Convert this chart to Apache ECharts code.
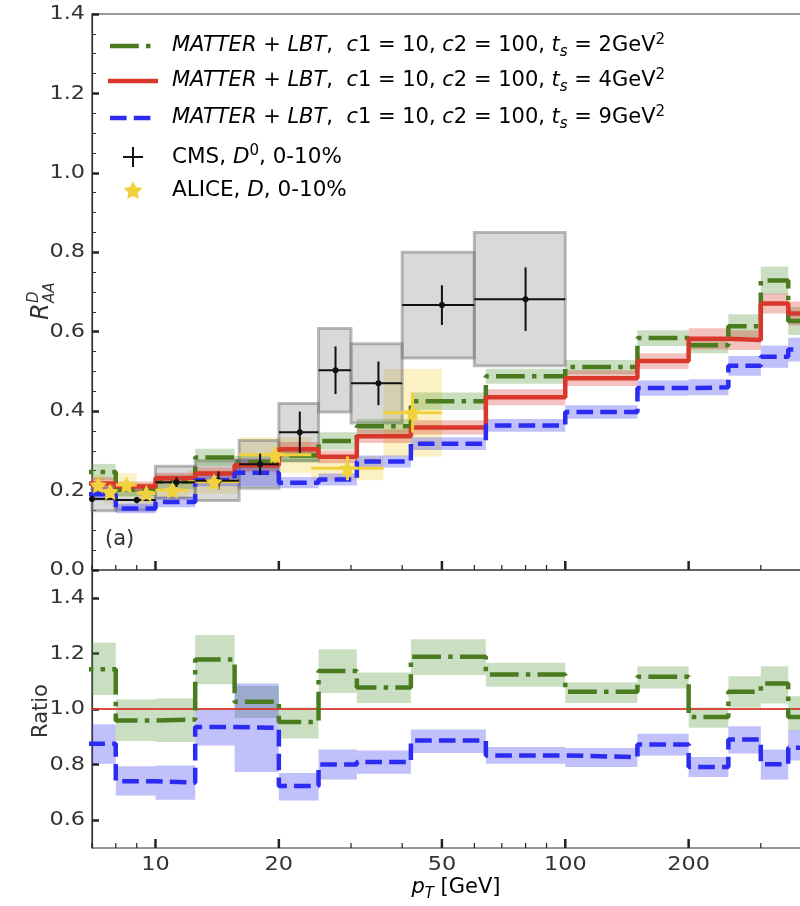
<!DOCTYPE html>
<html>
<head>
<meta charset="utf-8">
<script src="https://cdn.jsdelivr.net/npm/echarts@6/dist/echarts.min.js"></script>
<style>
html,body{margin:0;padding:0;background:#fff;}
#main{width:800px;height:906px;}
</style>
</head>
<body>
<div id="main"></div>
<script>
// histogram bin edges of the model curves (GeV)
var binEdges = [6, 8, 10, 12.5, 15.6, 20, 25, 31, 42, 64, 100, 150, 200, 250, 300, 350, 420];

// R_AA, MATTER+LBT, ts = 2, 4, 9 GeV^2
var greenRaa = [0.247, 0.202, 0.222, 0.283, 0.271, 0.288, 0.325, 0.362, 0.425, 0.488, 0.511, 0.584, 0.566, 0.614, 0.729, 0.627];
var greenErr = [0.020, 0.016, 0.018, 0.022, 0.016, 0.017, 0.022, 0.018, 0.022, 0.019, 0.018, 0.020, 0.020, 0.030, 0.035, 0.035];
var redRaa   = [0.218, 0.210, 0.231, 0.243, 0.264, 0.304, 0.285, 0.337, 0.359, 0.435, 0.483, 0.526, 0.582, 0.579, 0.671, 0.646];
var redErr   = [0.015, 0.013, 0.014, 0.016, 0.016, 0.018, 0.016, 0.017, 0.018, 0.020, 0.020, 0.020, 0.027, 0.025, 0.025, 0.030];
var blueRaa  = [0.191, 0.155, 0.171, 0.226, 0.245, 0.220, 0.228, 0.273, 0.318, 0.364, 0.398, 0.458, 0.460, 0.514, 0.537, 0.555];
var blueErr  = [0.016, 0.012, 0.013, 0.015, 0.035, 0.014, 0.015, 0.015, 0.016, 0.016, 0.017, 0.019, 0.020, 0.025, 0.028, 0.030];

// ratio to ts = 4 GeV^2
var greenRatio   = [1.143, 0.959, 0.962, 1.178, 1.026, 0.953, 1.137, 1.077, 1.188, 1.124, 1.062, 1.116, 0.971, 1.062, 1.092, 0.971];
var greenRatioLo = [1.050, 0.885, 0.881, 1.089, 0.968, 0.894, 1.058, 1.022, 1.122, 1.080, 1.022, 1.074, 0.933, 1.005, 1.020, 0.923];
var greenRatioHi = [1.238, 1.034, 1.038, 1.266, 1.083, 1.005, 1.215, 1.131, 1.251, 1.166, 1.095, 1.154, 1.005, 1.118, 1.154, 1.046];
var blueRatio    = [0.875, 0.740, 0.735, 0.935, 0.932, 0.723, 0.800, 0.809, 0.887, 0.833, 0.827, 0.872, 0.791, 0.890, 0.801, 0.861];
var blueRatioLo  = [0.803, 0.689, 0.674, 0.869, 0.773, 0.671, 0.746, 0.767, 0.842, 0.803, 0.791, 0.833, 0.755, 0.840, 0.746, 0.815];
var blueRatioHi  = [0.945, 0.794, 0.797, 1.001, 1.092, 0.770, 0.854, 0.851, 0.926, 0.863, 0.860, 0.911, 0.827, 0.938, 0.854, 0.924];

// CMS D0 0-10%
var cmsX    = [7, 9, 11.25, 14.25, 18, 22.5, 27.5, 35, 50, 80];
var cmsXlo  = [6, 8, 10, 12.5, 16, 20, 25, 30, 40, 60];
var cmsXhi  = [8, 10, 12.5, 16, 20, 25, 30, 40, 60, 100];
var cmsY    = [0.179, 0.176, 0.221, 0.225, 0.266, 0.347, 0.503, 0.470, 0.667, 0.682];
var cmsStat = [0.008, 0.008, 0.012, 0.023, 0.027, 0.052, 0.060, 0.055, 0.050, 0.080];
var cmsSys  = [0.030, 0.025, 0.040, 0.050, 0.060, 0.072, 0.105, 0.100, 0.133, 0.168];

// ALICE D 0-10%
var aliceX    = [7.25, 7.75, 8.5, 9.5, 11, 13.9, 19.6, 29.4, 42.4];
var aliceXlo  = [7, 7.5, 8, 9, 10, 12, 16, 24, 36];
var aliceXhi  = [7.5, 8, 9, 10, 12, 16, 24, 36, 50];
var aliceY    = [0.214, 0.197, 0.214, 0.193, 0.201, 0.222, 0.290, 0.256, 0.396];
var aliceStat = [0.010, 0.010, 0.010, 0.010, 0.012, 0.015, 0.020, 0.030, 0.050];
var aliceSys  = [0.025, 0.030, 0.030, 0.025, 0.025, 0.030, 0.045, 0.030, 0.110];

// axis ticks
var xMajorTicks = [10, 20, 50, 100, 200];
var xMinorTicks = [7, 8, 9, 30, 40, 60, 70, 80, 90, 300, 400];
var raaTicks    = [0.0, 0.2, 0.4, 0.6, 0.8, 1.0, 1.2, 1.4];
var ratioTicks  = [0.6, 0.8, 1.0, 1.2, 1.4];

var GREEN = '#4a7c1f', RED = '#d8382b', BLUE = '#2b2bf2', GOLD = '#f2d23c';
var FONT = 'DejaVu Sans';
var STAR = 'path://M0,-100 L29.4,-40.5 L95.1,-30.9 L47.6,15.5 L58.8,80.9 L0,50 L-58.8,80.9 L-47.6,15.5 L-95.1,-30.9 L-29.4,-40.5 Z';
var TICK_FONT = '20px "' + FONT + '"';
var TICK_SCALE = 1.12;

function stepData(vals){
    var d = [];
    for (var i = 0; i < vals.length; i++) d.push([binEdges[i], vals[i]]);
    d.push([binEdges[vals.length], vals[vals.length-1]]);
    return d;
}
function bandData(lo, hi){
    var d = [];
    for (var i = 0; i < lo.length; i++) d.push([binEdges[i], binEdges[i+1], lo[i], hi[i]]);
    return d;
}
function errBand(vals, err){
    var lo = [], hi = [];
    for (var i = 0; i < vals.length; i++){ lo.push(vals[i]-err[i]); hi.push(vals[i]+err[i]); }
    return bandData(lo, hi);
}
function boxData(x, xlo, xhi, y, e){
    var d = [];
    for (var i = 0; i < x.length; i++) d.push([xlo[i], xhi[i], y[i]-e[i], y[i]+e[i]]);
    return d;
}
function errData(x, xlo, xhi, y, e){
    var d = [];
    for (var i = 0; i < x.length; i++) d.push([x[i], y[i], xlo[i], xhi[i], e[i]]);
    return d;
}
function pairData(x, y){
    var d = [];
    for (var i = 0; i < x.length; i++) d.push([x[i], y[i]]);
    return d;
}

function rectRenderer(fill, stroke, lw){
    return function(params, api){
        var cs = params.coordSys;
        var p1 = api.coord([api.value(0), api.value(3)]);
        var p2 = api.coord([api.value(1), api.value(2)]);
        var shape = echarts.graphic.clipRectByRect(
            {x: p1[0], y: p1[1], width: p2[0]-p1[0], height: p2[1]-p1[1]},
            {x: cs.x, y: cs.y, width: cs.width, height: cs.height});
        if (!shape) return;
        return {type: 'rect', shape: shape,
            style: {fill: fill, stroke: stroke || null, lineWidth: lw || 0}};
    };
}
function errRenderer(color, lw, dot){
    return function(params, api){
        var cs = params.coordSys;
        var c = api.coord([api.value(0), api.value(1)]);
        var l = api.coord([api.value(2), api.value(1)]);
        var r = api.coord([api.value(3), api.value(1)]);
        var t = api.coord([api.value(0), api.value(1)+api.value(4)]);
        var b = api.coord([api.value(0), api.value(1)-api.value(4)]);
        var x1 = Math.max(l[0], cs.x), x2 = Math.min(r[0], cs.x+cs.width);
        var ch = [
            {type:'line', shape:{x1:x1, y1:c[1], x2:x2, y2:c[1]}, style:{stroke:color, lineWidth:lw}},
            {type:'line', shape:{x1:c[0], y1:t[1], x2:c[0], y2:b[1]}, style:{stroke:color, lineWidth:lw}}
        ];
        if (dot) ch.push({type:'circle', shape:{cx:c[0], cy:c[1], r:dot}, style:{fill:color}});
        return {type:'group', children: ch};
    };
}
// x ticks drawn upward from the bottom edge of a grid, optional labels below
function tickRenderer(len, lw, withLabel){
    return function(params, api){
        var cs = params.coordSys;
        var x = api.coord([api.value(0), api.value(1)])[0];
        var yb = cs.y + cs.height;
        var ch = [{type:'line', shape:{x1:x, y1:yb, x2:x, y2:yb-len}, style:{stroke:'#222', lineWidth:lw}}];
        if (withLabel) ch.push({type:'text', x:x, y:yb+7, scaleX:TICK_SCALE, style:{text:String(api.value(0)),
            font:TICK_FONT, fill:'#333', align:'center', verticalAlign:'top'}});
        return {type:'group', children: ch};
    };
}
// y tick labels left of a grid
function yLabelRenderer(params, api){
    var cs = params.coordSys;
    var y = api.coord([api.value(0), api.value(1)])[1];
    return {type:'text', x:cs.x-7, y:y, scaleX:TICK_SCALE, style:{text:api.value(1).toFixed(1),
        font:TICK_FONT, fill:'#333', align:'right', verticalAlign:'middle'}};
}

function band(name, data, color, xi, yi){
    return {name:name, type:'custom', xAxisIndex:xi, yAxisIndex:yi, silent:true, z:2,
        renderItem: rectRenderer(color), encode:{x:[0,1], y:[2,3]}, data:data};
}
function step(name, data, color, dash, lw, xi, yi){
    return {name:name, type:'line', xAxisIndex:xi, yAxisIndex:yi, step:'end', symbol:'none', silent:true, z:4,
        lineStyle:{color:color, width:lw, type:dash, cap:'butt'}, data:data};
}
function ticks(values, mid, len, lw, xi, yi, lab){
    var d = values.map(function(v){ return [v, mid]; });
    return {type:'custom', xAxisIndex:xi, yAxisIndex:yi, silent:true, z:6,
        renderItem: tickRenderer(len, lw, lab), encode:{x:0, y:1}, data:d};
}
function yLabels(values, xi, yi){
    var d = values.map(function(v){ return [10, v]; });
    return {type:'custom', xAxisIndex:xi, yAxisIndex:yi, silent:true, z:6, clip:false,
        renderItem: yLabelRenderer, encode:{x:0, y:1}, data:d};
}
function richStyles(fs){
    return {
        n: {fontFamily:FONT, fontSize:fs, color:'#222', lineHeight:fs+6},
        i: {fontFamily:FONT, fontSize:fs, fontStyle:'italic', color:'#222', lineHeight:fs+6},
        sub: {fontFamily:FONT, fontSize:Math.round(fs*0.7), fontStyle:'italic', color:'#222', lineHeight:Math.round(fs*0.7), verticalAlign:'bottom'},
        sup: {fontFamily:FONT, fontSize:Math.round(fs*0.7), color:'#222', lineHeight:Math.round(fs*0.7), verticalAlign:'top'}
    };
}
function legendText(y, ts){
    return {type:'text', x:172, y:y, style:{
        text:'{i|MATTER}{n| + }{i|LBT}{n|,  }{i|c}{n|1 = 10, }{i|c}{n|2 = 100, }{i|t}{sub|s}{n| = ' + ts + 'GeV}{sup|2}',
        rich:richStyles(21), verticalAlign:'middle'}};
}
function starPoints(cx, cy, r){
    var pts = [];
    for (var k = 0; k < 10; k++){
        var a = -Math.PI/2 + k*Math.PI/5, rr = (k % 2) ? r*0.5 : r;
        pts.push([cx + rr*Math.cos(a), cy + rr*Math.sin(a)]);
    }
    return pts;
}

var DASHDOT = [28.8, 7.2, 4.5, 7.2];
var DASHED = [16.6, 7.2];

var series = [
    // upper panel
    {type:'custom', xAxisIndex:0, yAxisIndex:0, silent:true, z:1, encode:{x:[0,1], y:[2,3]},
     renderItem: rectRenderer('rgba(242,210,60,0.3)'), data: boxData(aliceX, aliceXlo, aliceXhi, aliceY, aliceSys)},
    {type:'custom', xAxisIndex:0, yAxisIndex:0, silent:true, z:1, encode:{x:[0,1], y:[2,3]},
     renderItem: rectRenderer('rgba(140,140,140,0.33)', 'rgba(120,120,120,0.5)', 3),
     data: boxData(cmsX, cmsXlo, cmsXhi, cmsY, cmsSys)},
    band('g band', errBand(greenRaa, greenErr), 'rgba(80,150,50,0.3)', 0, 0),
    band('r band', errBand(redRaa, redErr), 'rgba(215,50,40,0.3)', 0, 0),
    band('b band', errBand(blueRaa, blueErr), 'rgba(60,60,240,0.32)', 0, 0),
    step('ts2', stepData(greenRaa), GREEN, DASHDOT, 4.5, 0, 0),
    step('ts4', stepData(redRaa), RED, 'solid', 4.5, 0, 0),
    step('ts9', stepData(blueRaa), BLUE, DASHED, 4.5, 0, 0),
    {type:'custom', xAxisIndex:0, yAxisIndex:0, silent:true, z:5, encode:{x:0, y:1},
     renderItem: errRenderer(GOLD, 3, 0), data: errData(aliceX, aliceXlo, aliceXhi, aliceY, aliceStat)},
    {type:'scatter', xAxisIndex:0, yAxisIndex:0, silent:true, z:5, symbol:STAR, symbolSize:17,
     itemStyle:{color:GOLD, opacity:1}, data: pairData(aliceX, aliceY)},
    {type:'custom', xAxisIndex:0, yAxisIndex:0, silent:true, z:5, encode:{x:0, y:1},
     renderItem: errRenderer('#111', 2, 3), data: errData(cmsX, cmsXlo, cmsXhi, cmsY, cmsStat)},
    ticks(xMajorTicks, 0.5, 9, 2.5, 0, 0, false),
    ticks(xMinorTicks, 0.5, 5, 1.2, 0, 0, false),
    yLabels(raaTicks, 0, 0),

    // ratio panel
    band('g ratio band', bandData(greenRatioLo, greenRatioHi), 'rgba(80,150,50,0.3)', 1, 1),
    band('b ratio band', bandData(blueRatioLo, blueRatioHi), 'rgba(60,60,240,0.32)', 1, 1),
    step('g ratio', stepData(greenRatio), GREEN, DASHDOT, 4.5, 1, 1),
    step('b ratio', stepData(blueRatio), BLUE, DASHED, 4.5, 1, 1),
    {type:'line', xAxisIndex:1, yAxisIndex:1, symbol:'none', silent:true, z:3,
     lineStyle:{color:RED, width:2, opacity:0.9}, data:[[6, 1.0], [420, 1.0]]},
    ticks(xMajorTicks, 1, 9, 2.5, 1, 1, true),
    ticks(xMinorTicks, 1, 5, 1.2, 1, 1, false),
    yLabels(ratioTicks, 1, 1)
];

var option = {
    animation: false,
    backgroundColor: '#fff',
    grid: [
        {left:92, top:14, width:720, height:556, show:true, borderColor:'#333', borderWidth:1.2, outerBoundsMode:'none', containLabel:false},
        {left:92, top:570, width:720, height:278, show:true, borderColor:'#333', borderWidth:1.2, outerBoundsMode:'none', containLabel:false}
    ],
    xAxis: [
        {gridIndex:0, type:'log', logBase:10, min:7, max:400, axisLine:{show:false}, axisTick:{show:false},
         axisLabel:{show:false}, splitLine:{show:false}},
        {gridIndex:1, type:'log', logBase:10, min:7, max:400, axisLine:{show:false}, axisTick:{show:false},
         axisLabel:{show:false}, splitLine:{show:false}}
    ],
    yAxis: [
        {gridIndex:0, type:'value', min:0, max:1.4, interval:0.2,
         axisLine:{show:true, lineStyle:{color:'#333', width:1.2}},
         axisTick:{inside:true, length:7, lineStyle:{color:'#222', width:2.5}},
         minorTick:{show:true, splitNumber:4, length:4, lineStyle:{color:'#333', width:1}},
         axisLabel:{show:false}, splitLine:{show:false}},
        {gridIndex:1, type:'value', min:0.5, max:1.5, interval:0.1,
         axisLine:{show:true, lineStyle:{color:'#333', width:1.2}},
         axisTick:{inside:true, length:7, customValues:ratioTicks, lineStyle:{color:'#222', width:2.5}},
         axisLabel:{show:false}, splitLine:{show:false}},
        {gridIndex:1, type:'value', min:0.5, max:1.5, interval:0.05,
         axisLine:{show:false}, axisTick:{inside:true, length:4, lineStyle:{color:'#333', width:1}},
         axisLabel:{show:false}, splitLine:{show:false}}
    ],
    series: series,
    graphic: [
        // legend
        {type:'line', shape:{x1:110, y1:46, x2:152, y2:46}, style:{stroke:GREEN, lineWidth:4.5, lineDash:DASHDOT}},
        {type:'line', shape:{x1:108, y1:81, x2:158, y2:81}, style:{stroke:RED, lineWidth:4.5}},
        {type:'line', shape:{x1:110, y1:118, x2:152, y2:118}, style:{stroke:BLUE, lineWidth:4.5, lineDash:DASHED}},
        {type:'line', shape:{x1:123, y1:157, x2:143, y2:157}, style:{stroke:'#111', lineWidth:2}},
        {type:'line', shape:{x1:133, y1:147, x2:133, y2:167}, style:{stroke:'#111', lineWidth:2}},
        {type:'polygon', shape:{points:starPoints(133, 191, 10)}, style:{fill:GOLD}},
        legendText(46, '2'), legendText(81, '4'), legendText(118, '9'),
        {type:'text', x:172, y:157, style:{text:'{n|CMS, }{i|D}{sup|0}{n|, 0-10%}', rich:richStyles(21.5), verticalAlign:'middle'}},
        {type:'text', x:172, y:190, style:{text:'{n|ALICE, }{i|D}{n|, 0-10%}', rich:richStyles(21.5), verticalAlign:'middle'}},
        // panel tag
        {type:'text', x:105, y:540, style:{text:'(a)', font:'21px "' + FONT + '"', fill:'#333', verticalAlign:'middle'}},
        // axis titles
        {type:'group', x:42, y:290, rotation:Math.PI/2, children:[
            {type:'text', x:-30, y:0, style:{text:'R', font:'italic 24px "' + FONT + '"', fill:'#333', verticalAlign:'middle'}},
            {type:'text', x:-13, y:-8, style:{text:'D', font:'italic 15px "' + FONT + '"', fill:'#333', verticalAlign:'middle'}},
            {type:'text', x:-13, y:8, style:{text:'AA', font:'italic 15px "' + FONT + '"', fill:'#333', verticalAlign:'middle'}}
        ]},
        {type:'text', x:42, y:711, rotation:Math.PI/2, style:{text:'Ratio', font:'21px "' + FONT + '"', fill:'#333',
            align:'center', verticalAlign:'middle'}},
        {type:'text', x:456, y:888, style:{text:'{i|p}{sub|T}{n| [GeV]}', rich:richStyles(21), align:'center', verticalAlign:'middle'}}
    ]
};

var chart = echarts.init(document.getElementById('main'));
chart.setOption(option);
</script>
</body>
</html>
